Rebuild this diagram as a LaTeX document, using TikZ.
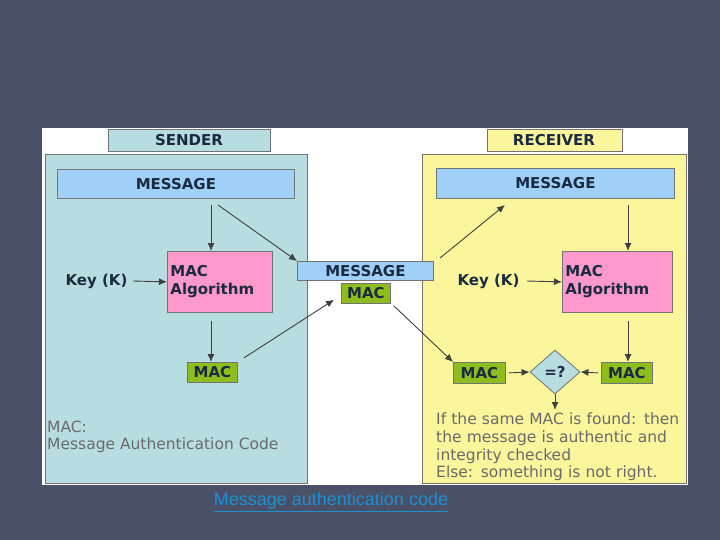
\documentclass[tikz,border=0pt]{standalone}
\usepackage{fontspec}
\setmainfont{DejaVu Sans}
\newfontfamily\capfont{Liberation Sans}
\usetikzlibrary{shapes.geometric,arrows.meta}
\definecolor{bgc}{HTML}{4A5068}
\definecolor{sendc}{HTML}{B8DDE0}
\definecolor{recc}{HTML}{FBF69C}
\definecolor{msgc}{HTML}{A0D0F8}
\definecolor{pinkc}{HTML}{FF99CC}
\definecolor{macc}{HTML}{8DBE1E}
\definecolor{txtc}{HTML}{1A2A40}
\definecolor{grayt}{HTML}{6A6A6A}
\definecolor{linkc}{HTML}{1E90D0}
\tikzset{
 box/.style={draw=black!55,line width=0.8pt,inner sep=0pt,anchor=north west},
 lbl/.style={font=\bfseries\fontsize{15}{18}\selectfont,text=txtc},
 arr/.style={-{Latex[length=8pt,width=7pt]},line width=0.9pt,black!75},
 note/.style={font=\fontsize{15.5}{17}\selectfont,text=grayt,align=left,anchor=north west,inner sep=0pt}
}
\begin{document}
\begin{tikzpicture}[x=1pt,y=-1pt]
\fill[bgc] (0,0) rectangle (720,540);
\useasboundingbox (0,0) rectangle (720,540);
\fill[white] (42,128) rectangle (688,485);
% sender
\draw[box,fill=sendc] (108,129) rectangle (270,151);
\node[lbl] (sl) at (189,140) {SENDER};
\draw[box,fill=sendc] (45,154) rectangle (307,483);
\node[box,fill=msgc,minimum width=237pt,minimum height=29pt,lbl] (sm) at (57,169) {MESSAGE};
\node[box,fill=pinkc,minimum width=105pt,minimum height=61pt,lbl,align=left,text width=99pt,inner xsep=3pt] (sa) at (167,251) {MAC\\Algorithm};
\node[box,fill=macc,minimum width=50pt,minimum height=20pt,lbl] (smac) at (187,362) {MAC};
\node[lbl,anchor=east] (sk) at (131,281) {Key (K)};
\draw[arr] (sk.east) ++(2,0) -- (sa.west);
\draw[arr] (211,205) coordinate (a1) -- (sa.north -| a1);
\draw[arr] (sa.south -| a1) ++(0,8) -- (smac.north -| a1);
\node[note] (sn) at (47,421) {MAC:\\Message Authentication Code};
% receiver
\draw[box,fill=recc] (487,129) rectangle (622,151);
\node[lbl] (rl) at (554,140) {RECEIVER};
\draw[box,fill=recc] (422,154) rectangle (686,483);
\node[box,fill=msgc,minimum width=238pt,minimum height=30pt,lbl] (rm) at (436,168) {MESSAGE};
\node[box,fill=pinkc,minimum width=110pt,minimum height=61pt,lbl,align=left,text width=104pt,inner xsep=3pt] (ra) at (562,251) {MAC\\Algorithm};
\node[lbl,anchor=east] (rk) at (523,281) {Key (K)};
\draw[arr] (rk.east) ++(4,0) -- (ra.west);
\draw[arr] (440,258) -- (505,205);
\draw[arr] (628,205) coordinate (a2) -- (ra.north -| a2);
\node[box,fill=macc,minimum width=52pt,minimum height=21pt,lbl] (rmac1) at (453,362) {MAC};
\node[box,fill=macc,minimum width=51pt,minimum height=21pt,lbl] (rmac2) at (601,362) {MAC};
\draw[arr] (ra.south -| a2) ++(0,8) -- (rmac2.north -| a2);
\node[diamond,draw=black!55,line width=0.8pt,fill=sendc,minimum width=50pt,minimum height=44pt,inner sep=0pt,lbl] (eq) at (555,372) {=?};
\draw[arr] (rmac1.east) ++(3,0) -- (eq.west);
\draw[arr] (rmac2.west) ++(-3,0) -- (eq.east);
\coordinate (eb) at (555,410);
\draw[arr] (eq.south) -- (eb);
\node[note,text width=250pt,font=\fontsize{15.5}{17.6}\selectfont] (rn) at (436,413) {If the same MAC is found: then\\the message is authentic and\\integrity checked\\Else: something is not right.};
% middle
\node[box,fill=msgc,minimum width=136pt,minimum height=19pt,lbl] (mm) at (297,261) {MESSAGE};
\node[box,fill=macc,minimum width=49pt,minimum height=20pt,lbl] (mmac) at (341,283) {MAC};
\draw[arr] (218,205) -- (mm.north west);
\draw[arr] (smac.north east) ++(6,-4) -- ([xshift=-7pt,yshift=4pt]mmac.south west);
\draw[arr] (mmac.south east) ++(3,2) -- (rmac1.north west);
% caption
\node[font=\capfont\fontsize{18}{20}\selectfont,text=linkc] (cap) at (331,502) {\underline{Message authentication code}};
\end{tikzpicture}
\end{document}
